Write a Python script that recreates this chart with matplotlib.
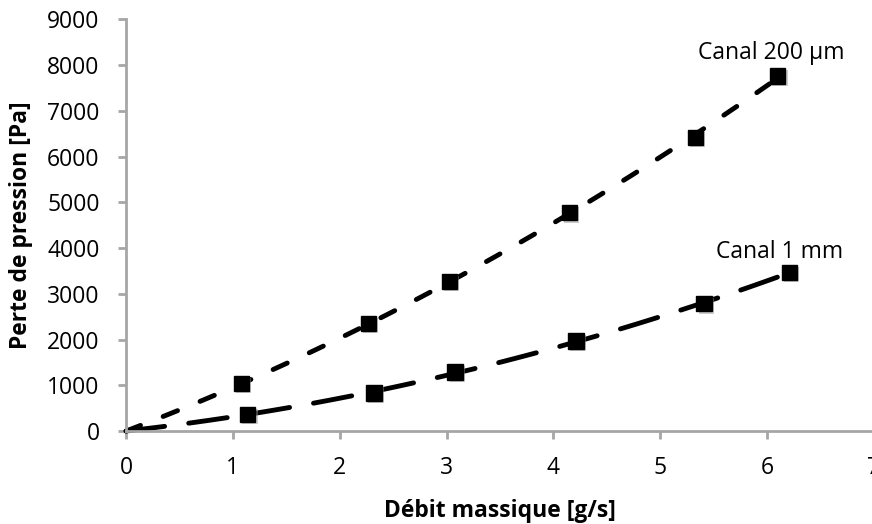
import numpy as np
import matplotlib.pyplot as plt
from matplotlib import patheffects as pe

plt.rcParams['font.family'] = ['Open Sans', 'DejaVu Sans']

# données
debit_200um = [1.08, 2.27, 3.03, 4.15, 5.33, 6.10]
perte_200um = [1040, 2350, 3270, 4770, 6420, 7760]
debit_1mm = [1.14, 2.32, 3.08, 4.21, 5.41, 6.21]
perte_1mm = [360, 830, 1290, 1970, 2780, 3470]

x_ticks = [0, 1, 2, 3, 4, 5, 6, 7]
y_ticks = [0, 1000, 2000, 3000, 4000, 5000, 6000, 7000, 8000, 9000]


def fit_poly2(x, y):
    # courbe de tendance polynomiale d'ordre 2 passant par l'origine
    x = np.asarray(x, float)
    y = np.asarray(y, float)
    A = np.column_stack([x**2, x])
    coef, *_ = np.linalg.lstsq(A, y, rcond=None)
    xf = np.linspace(0, x.max(), 100)
    return xf, coef[0] * xf**2 + coef[1] * xf


fig = plt.figure(figsize=(8.72, 5.24), dpi=100)
ax = fig.add_axes([126 / 872, 93 / 524, 748 / 872, 411.7 / 524])

shadow = [pe.SimplePatchShadow(offset=(1.5, -1.5), shadow_rgbFace='0.6', alpha=0.5), pe.Normal()]

xf, yf = fit_poly2(debit_200um, perte_200um)
ax.plot(xf, yf, color='black', lw=3.5, dashes=(3.2, 5.0), dash_capstyle='round', clip_on=False)
xf, yf = fit_poly2(debit_1mm, perte_1mm)
ax.plot(xf, yf, color='black', lw=3.5, dashes=(8.0, 5.0), dash_capstyle='round', clip_on=False)

ax.plot(debit_200um, perte_200um, 's', color='black', markersize=11, path_effects=shadow, clip_on=False)
ax.plot(debit_1mm, perte_1mm, 's', color='black', markersize=11, path_effects=shadow, clip_on=False)

ax.text(5.35, 8264, 'Canal 200 µm', fontsize=16.5, va='center', ha='left')
ax.text(5.52, 3913, 'Canal 1 mm', fontsize=16.5, va='center', ha='left')

ax.set_xlim(0, 7)
ax.set_ylim(0, 9000)
ax.set_xticks(x_ticks)
ax.set_yticks(y_ticks)

for s in ['top', 'right']:
    ax.spines[s].set_visible(False)
for s in ['left', 'bottom']:
    ax.spines[s].set_color('#a6a6a6')
    ax.spines[s].set_linewidth(2)
ax.tick_params(axis='both', colors='#a6a6a6', width=2, length=6, labelsize=16.5, labelcolor='black')
ax.tick_params(axis='y', pad=13)
ax.tick_params(axis='x', pad=12)

ax.set_xlabel('Débit massique [g/s]', fontsize=16.5, fontweight='bold')
ax.set_ylabel('Perte de pression [Pa]', fontsize=16.5, fontweight='bold')
ax.xaxis.set_label_coords(0.5, -0.165)
ax.yaxis.set_label_coords(-0.125, 0.5)

fig.savefig('out.png', dpi=100)
